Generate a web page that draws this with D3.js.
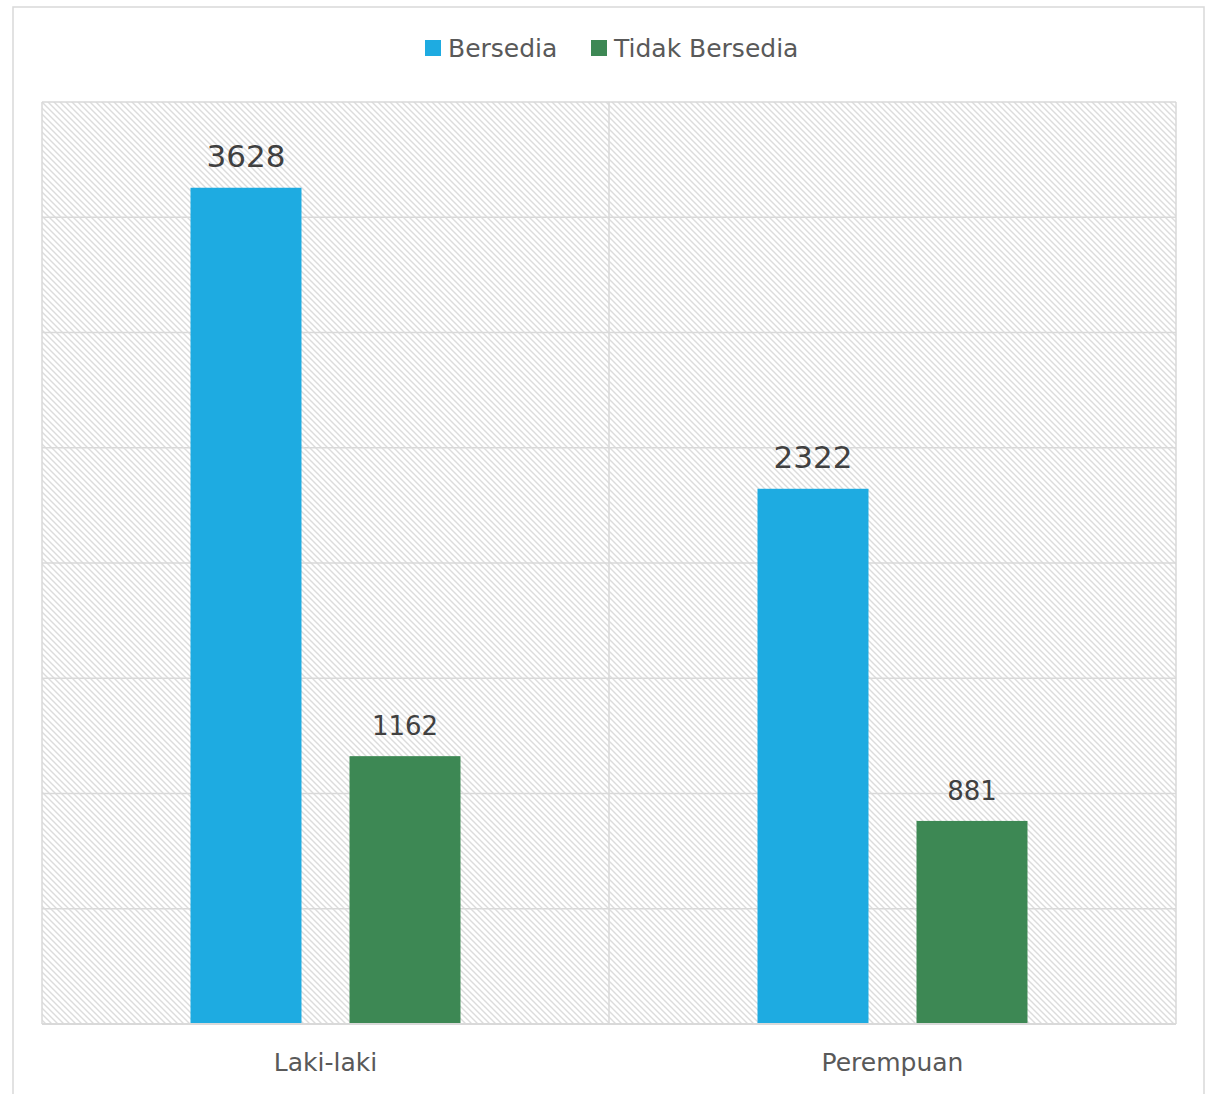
<!DOCTYPE html>
<html>
<head>
<meta charset="utf-8">
<script src="https://cdn.jsdelivr.net/npm/d3@7"></script>
<style>
  html, body { margin: 0; padding: 0; background: #fff; }
  svg { display: block; font-family: "DejaVu Sans", sans-serif; }
</style>
</head>
<body>
<svg id="chart" width="1212" height="1094"></svg>
<script>
const categories = ["Laki-laki", "Perempuan"];
const seriesNames = ["Bersedia", "Tidak Bersedia"];
const bersedia = [3628, 2322];
const tidakBersedia = [1162, 881];
const yTicks = [0, 500, 1000, 1500, 2000, 2500, 3000, 3500, 4000];
const seriesColors = ["#1eabe1", "#3d8854"];

const svg = d3.select("#chart");
const plot = { left: 42, top: 102, right: 1176, bottom: 1024 };

// outer border
svg.append("rect").attr("x", 13).attr("y", 7).attr("width", 1191).attr("height", 1100)
  .attr("fill", "#fff").attr("stroke", "#d9d9d9").attr("stroke-width", 1.5);

// hatch pattern
const defs = svg.append("defs");
const pat = defs.append("pattern").attr("id", "hatch").attr("patternUnits", "userSpaceOnUse")
  .attr("width", 6).attr("height", 6);
pat.append("rect").attr("width", 6).attr("height", 6).attr("fill", "#fff");
pat.append("path").attr("d", "M-1,-1L7,7M5,-1L7,1M-1,5L1,7")
  .attr("stroke", "#dcdcdc").attr("stroke-width", 1.4).attr("fill", "none");

const x0 = d3.scaleBand().domain(categories).range([plot.left, plot.right]).paddingInner(0).paddingOuter(0);
const x1 = d3.scaleBand().domain(seriesNames).range([0, x0.bandwidth()]).paddingInner(0.302).paddingOuter(0.934);
const y = d3.scaleLinear().domain([0, 4000]).range([plot.bottom, plot.top]);

svg.append("rect").attr("x", plot.left).attr("y", plot.top)
  .attr("width", plot.right - plot.left).attr("height", plot.bottom - plot.top)
  .attr("fill", "url(#hatch)");

// horizontal gridlines
svg.append("g").selectAll("line").data(yTicks).join("line")
  .attr("x1", plot.left).attr("x2", plot.right)
  .attr("y1", d => y(d)).attr("y2", d => y(d))
  .attr("stroke", "#d9d9d9").attr("stroke-width", 1.5);

// vertical category separators
const seps = [...categories.map(c => x0(c)), plot.right];
svg.append("g").selectAll("line").data(seps).join("line")
  .attr("x1", d => d).attr("x2", d => d)
  .attr("y1", plot.top).attr("y2", plot.bottom)
  .attr("stroke", "#d9d9d9").attr("stroke-width", 1.5);

// data
const rows = [];
categories.forEach((c, i) => {
  rows.push({ cat: c, s: seriesNames[0], v: bersedia[i], color: seriesColors[0] });
  rows.push({ cat: c, s: seriesNames[1], v: tidakBersedia[i], color: seriesColors[1] });
});

svg.append("g").selectAll("rect").data(rows).join("rect")
  .attr("x", d => x0(d.cat) + x1(d.s))
  .attr("y", d => y(d.v))
  .attr("width", x1.bandwidth())
  .attr("height", d => y(0) - y(d.v))
  .attr("fill", d => d.color);

svg.append("g").selectAll("text").data(rows).join("text")
  .attr("x", d => x0(d.cat) + x1(d.s) + x1.bandwidth() / 2)
  .attr("y", d => y(d.v) - 21)
  .attr("text-anchor", "middle")
  .attr("fill", "#404040")
  .attr("font-size", d => d.s === seriesNames[0] ? 31 : 26)
  .text(d => d.v);

// x axis line
svg.append("line").attr("x1", plot.left).attr("x2", plot.right)
  .attr("y1", plot.bottom).attr("y2", plot.bottom)
  .attr("stroke", "#d9d9d9").attr("stroke-width", 2);

// category labels
svg.append("g").selectAll("text").data(categories).join("text")
  .attr("x", d => x0(d) + x0.bandwidth() / 2)
  .attr("y", 1071)
  .attr("text-anchor", "middle")
  .attr("fill", "#595959")
  .attr("font-size", 25)
  .text(d => d);

// legend
const legendItems = [
  { name: seriesNames[0], color: seriesColors[0], x: 425 },
  { name: seriesNames[1], color: seriesColors[1], x: 591 }
];
const lg = svg.append("g").selectAll("g").data(legendItems).join("g");
lg.append("rect").attr("x", d => d.x).attr("y", 40).attr("width", 16).attr("height", 16).attr("fill", d => d.color);
lg.append("text").attr("x", d => d.x + 23).attr("y", 57).attr("fill", "#595959")
  .attr("font-size", 25).text(d => d.name);
</script>
</body>
</html>
